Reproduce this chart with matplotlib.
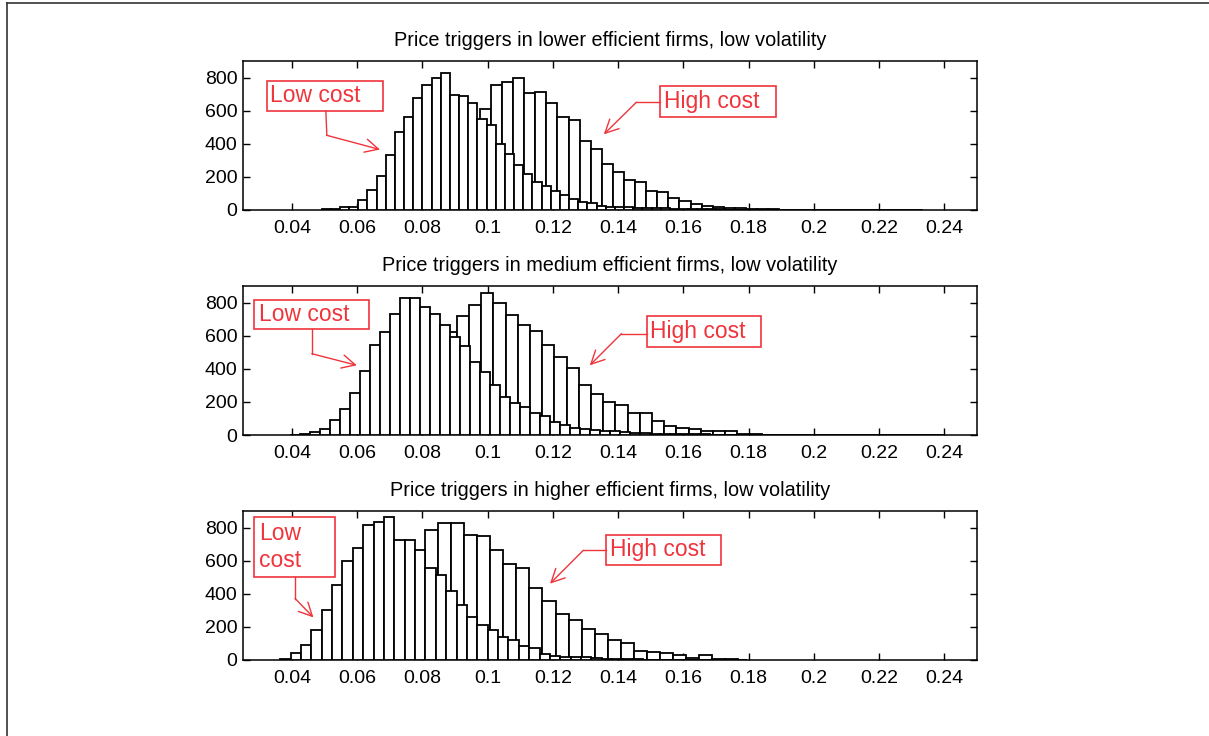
import numpy as np
import matplotlib
matplotlib.use("Agg")
import matplotlib.pyplot as plt
from matplotlib.lines import Line2D
from matplotlib.patches import Rectangle

plt.rcParams['font.family'] = ['Liberation Sans', 'DejaVu Sans']

# panel titles
titles = [
    "Price triggers in lower efficient firms, low volatility",
    "Price triggers in medium efficient firms, low volatility",
    "Price triggers in higher efficient firms, low volatility",
]

# histogram counts (first bin left edge, bin width, counts)
low1_start, low1_width = 0.0491, 0.00281
low1_counts = [5, 8, 20, 20, 60, 120, 205, 330, 474, 561, 676, 756, 796, 826,
               696, 686, 646, 551, 511, 401, 341, 271, 220, 170, 144, 116, 90,
               64, 50, 40, 26, 20, 18, 16, 15, 14, 12, 10, 9, 8, 7, 6, 5, 4,
               3, 3, 2, 1, 0, 1]
high1_start, high1_width = 0.0636, 0.0034
high1_counts = [1, 3, 8, 20, 45, 90, 160, 250, 360, 480, 610, 756, 776, 796,
                704, 714, 644, 560, 544, 416, 370, 280, 230, 180, 170, 114,
                106, 70, 54, 36, 26, 16, 14, 12, 8, 5, 4, 3, 2, 2, 1, 0, 2, 0,
                0, 0, 0, 2, 0, 2]

low2_start, low2_width = 0.0395, 0.00306
low2_counts = [3, 8, 20, 36, 90, 160, 254, 384, 544, 624, 730, 826, 826, 776,
               732, 664, 590, 540, 442, 380, 300, 230, 193, 170, 130, 114, 76,
               60, 44, 36, 28, 24, 22, 16, 12, 10, 8, 7, 6, 5, 4, 4, 3, 2, 2,
               1, 1, 1]
high2_start, high2_width = 0.0569, 0.00374
high2_counts = [1, 3, 10, 30, 70, 140, 250, 420, 620, 716, 786, 856, 796, 726,
                666, 626, 544, 470, 404, 304, 250, 200, 180, 130, 130, 84, 56,
                44, 34, 26, 26, 26, 4, 6, 2, 1, 1, 1, 2, 1, 1, 1, 0, 0, 0, 2,
                2, 0, 2]

low3_start, low3_width = 0.0364, 0.00318
low3_counts = [8, 40, 90, 184, 304, 451, 595, 675, 816, 836, 866, 726, 726,
               666, 553, 513, 415, 333, 261, 211, 182, 140, 118, 84, 70, 36,
               26, 20, 20, 16, 10, 8, 6, 5, 4, 3, 3, 2, 2, 2, 1, 1, 1, 1, 1]
high3_start, high3_width = 0.0528, 0.004
high3_counts = [5, 20, 60, 140, 260, 420, 600, 786, 826, 826, 758, 746, 666,
                582, 556, 436, 358, 280, 244, 190, 160, 120, 100, 56, 50, 40,
                30, 14, 30, 8, 6]

panels = [
    (low1_start, low1_width, low1_counts, high1_start, high1_width, high1_counts),
    (low2_start, low2_width, low2_counts, high2_start, high2_width, high2_counts),
    (low3_start, low3_width, low3_counts, high3_start, high3_width, high3_counts),
]

xticks = [0.04, 0.06, 0.08, 0.1, 0.12, 0.14, 0.16, 0.18, 0.2, 0.22, 0.24]
xtick_labels = ["0.04", "0.06", "0.08", "0.1", "0.12", "0.14", "0.16", "0.18",
                "0.2", "0.22", "0.24"]
yticks = [0, 200, 400, 600, 800]

# annotation layout per panel: box (x0, x1, y0, y1), text anchor, polyline
red = '#f0343c'
notes = [
    [("Low cost", (0.0324, 0.0680, 598, 778), (0.0333, 692),
      [(0.0504, 598), (0.0507, 451)], (0.0670, 365)),
     ("High cost", (0.1527, 0.1885, 561, 746), (0.1540, 657),
      [(0.1527, 651), (0.1456, 651)], (0.1356, 457))],
    [("Low cost", (0.0285, 0.0635, 638, 818), (0.0298, 728),
      [(0.0461, 638), (0.0461, 491)], (0.0599, 421)),
     ("High cost", (0.1487, 0.1839, 531, 718), (0.1497, 626),
      [(0.1487, 612), (0.1410, 612)], (0.1313, 421))],
    [("Low\ncost", (0.0285, 0.0533, 501, 862), (0.0298, 684),
      [(0.0410, 501), (0.0410, 371)], (0.0466, 257)),
     ("High cost", (0.1364, 0.1716, 576, 758), (0.1374, 668),
      [(0.1364, 662), (0.1293, 662)], (0.1191, 461))],
]

W, H = 1209, 736
fig = plt.figure(figsize=(W / 100, H / 100), dpi=100)
fig.patch.set_facecolor('white')

# frame lines at left and top
fig.add_artist(Line2D([7 / W, 7 / W], [0, 1 - 3 / H], color='#333333', lw=1.2))
fig.add_artist(Line2D([7 / W, 1], [1 - 3 / H, 1 - 3 / H], color='#333333', lw=1.2))

bottoms_px = [210, 435, 660]
for i, (ls, lw_, lc, hs, hw, hc) in enumerate(panels):
    ax = fig.add_axes([243 / W, (H - bottoms_px[i]) / H, 734 / W, 149 / H])

    hc = np.array(hc)
    lc = np.array(lc)
    h_edges = hs + hw * np.arange(len(hc))
    l_edges = ls + lw_ * np.arange(len(lc))
    ax.bar(h_edges, hc, width=hw, align='edge', facecolor='white',
           edgecolor='black', linewidth=1.3, zorder=2)
    ax.bar(l_edges, lc, width=lw_, align='edge', facecolor='white',
           edgecolor='black', linewidth=1.3, zorder=3)

    ax.set_xlim(0.025, 0.25)
    ax.set_ylim(0, 900)
    ax.set_xticks(xticks)
    ax.set_xticklabels(xtick_labels)
    ax.set_yticks(yticks)
    ax.tick_params(direction='in', length=5, width=1, top=True, right=True,
                   labelsize=14, pad=4)
    ax.tick_params(axis='x', pad=7)
    for sp in ax.spines.values():
        sp.set_linewidth(1.1)
    ax.set_title(titles[i], fontsize=14.3, pad=11)

    for text, (x0, x1, y0, y1), (tx, ty), line, head in notes[i]:
        ax.add_patch(Rectangle((x0, y0), x1 - x0, y1 - y0, facecolor='white',
                               edgecolor=red, linewidth=1.2, zorder=5))
        ax.text(tx, ty, text, color=red, fontsize=16.5, ha='left', va='center',
                linespacing=1.2, zorder=6)
        xs, ys = zip(*line)
        ax.plot(xs, ys, color=red, lw=1.0, zorder=5)
        ax.annotate('', xy=head, xytext=line[-1],
                    arrowprops=dict(arrowstyle='->', color=red, lw=1.0,
                                    mutation_scale=24, shrinkA=0, shrinkB=0),
                    zorder=5)

fig.savefig('out.png', dpi=100)
